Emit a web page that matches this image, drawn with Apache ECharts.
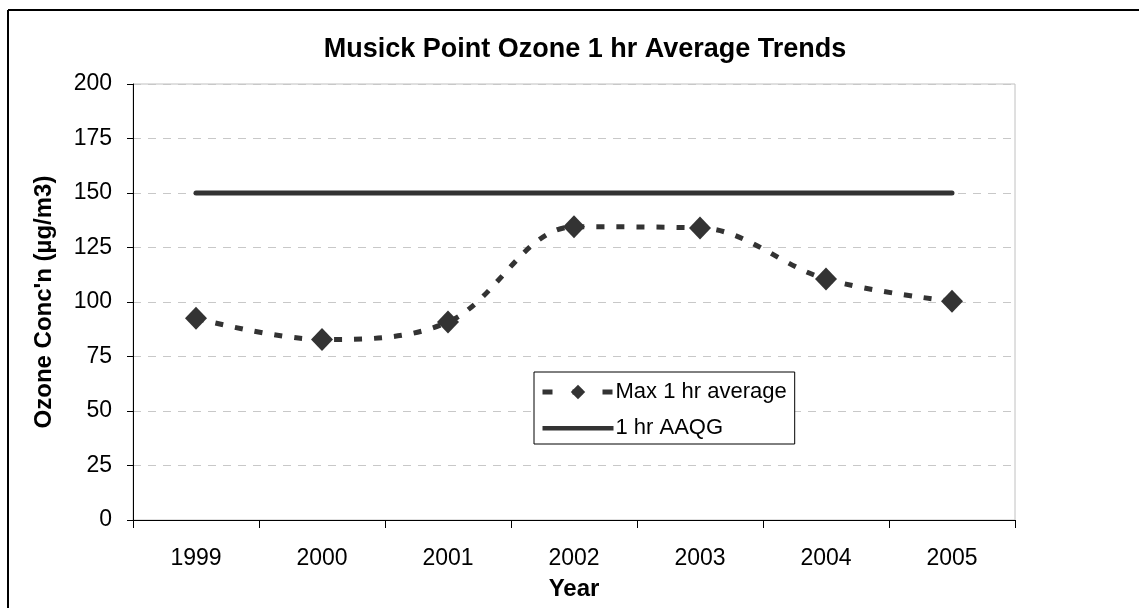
<!DOCTYPE html>
<html>
<head>
<meta charset="utf-8">
<script src="https://cdn.jsdelivr.net/npm/echarts@6/dist/echarts.min.js"></script>
<style>
html,body{margin:0;padding:0;background:#fff;}
#chart{width:1139px;height:608px;}
</style>
</head>
<body>
<div id="chart"></div>
<script>
const years = ['1999','2000','2001','2002','2003','2004','2005'];
const maxHourAvg = [92.5, 82.8, 90.8, 134.5, 134, 110.5, 100.3];
const aaqg = [150, 150, 150, 150, 150, 150, 150];
const seriesNames = ['Max 1 hr average', '1 hr AAQG'];
const yTicks = [0, 25, 50, 75, 100, 125, 150, 175, 200];

const FONT = '"Liberation Sans", Arial, sans-serif';
const chart = echarts.init(document.getElementById('chart'), null, {renderer: 'canvas'});
chart.setOption({
  backgroundColor: '#fff',
  animation: false,
  textStyle: {fontFamily: FONT},
  graphic: [
    {type: 'line', shape: {x1: 8, y1: 10, x2: 1139, y2: 10}, style: {stroke: '#000', lineWidth: 2}, z: 100},
    {type: 'line', shape: {x1: 8, y1: 10, x2: 8, y2: 608}, style: {stroke: '#000', lineWidth: 2}, z: 100}
  ],
  title: {
    text: 'Musick Point Ozone 1 hr Average Trends',
    left: 580, top: 31, textAlign: 'center',
    textStyle: {fontFamily: FONT, fontSize: 27, fontWeight: 'bold', color: '#000'}
  },
  grid: {
    left: 133, right: 124, top: 84, bottom: 88,
    show: true, borderColor: '#c0c0c0', borderWidth: 1, backgroundColor: '#fff'
  },
  legend: {
    orient: 'vertical',
    left: 534, top: 372,
    data: [
      {name: seriesNames[0], lineStyle: {width: 5, type: [10, 20]}},
      {name: seriesNames[1], icon: 'path://M0,0 h0.01 v0.01 h-0.01 Z M0,7 H73 V11.5 H0 Z M0,18 h0.01 v-0.01 h-0.01 Z'}
    ],
    itemWidth: 71, itemHeight: 18, itemGap: 14,
    padding: [9, 8, 5, 6],
    backgroundColor: '#fff',
    borderColor: '#000', borderWidth: 1,
    lineStyle: {width: 5},
    textStyle: {fontFamily: FONT, fontSize: 22, color: '#000', padding: [0, 0, 0, -3]}
  },
  xAxis: {
    type: 'category',
    data: years,
    boundaryGap: true,
    name: 'Year', nameLocation: 'middle', nameGap: 57,
    nameTextStyle: {fontFamily: FONT, fontSize: 24, fontWeight: 'bold', color: '#000'},
    axisLine: {lineStyle: {color: '#000', width: 1}},
    axisTick: {show: true, length: 8, inside: false, lineStyle: {color: '#000'}},
    axisLabel: {fontFamily: FONT, fontSize: 23, color: '#000', margin: 27},
    splitLine: {show: false}
  },
  yAxis: {
    type: 'value',
    min: yTicks[0], max: yTicks[yTicks.length - 1], interval: yTicks[1] - yTicks[0],
    name: "Ozone Conc'n (µg/m3)", nameLocation: 'middle', nameGap: 77, nameRotate: 90,
    nameTextStyle: {fontFamily: FONT, fontSize: 24, fontWeight: 'bold', color: '#000'},
    axisLine: {show: true, lineStyle: {color: '#000', width: 1}},
    axisTick: {show: true, length: 6, lineStyle: {color: '#000'}},
    axisLabel: {fontFamily: FONT, fontSize: 23, color: '#000', margin: 21},
    splitLine: {show: true, lineStyle: {color: '#c8c8c8', type: [8, 7], width: 1}}
  },
  series: [
    {
      name: seriesNames[0],
      type: 'line',
      data: maxHourAvg,
      smooth: 0.35,
      symbol: 'diamond',
      symbolSize: [22, 23],
      itemStyle: {color: '#333333'},
      lineStyle: {color: '#333333', width: 5, type: [8, 12]},
      z: 3
    },
    {
      name: seriesNames[1],
      type: 'line',
      data: aaqg,
      symbol: 'none',
      itemStyle: {color: '#333333'},
      lineStyle: {color: '#333333', width: 5, cap: 'round'},
      z: 2
    }
  ]
});
</script>
</body>
</html>
